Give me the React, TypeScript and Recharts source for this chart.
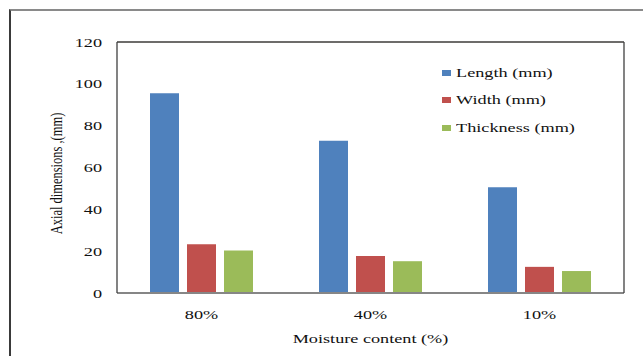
import React from "react";
import { Bar, BarChart, CartesianGrid, Legend, XAxis, YAxis } from "recharts";

const categories = ["80%", "40%", "10%"];
const lengthMm = [95.5, 72.8, 50.5];
const widthMm = [23.3, 17.7, 12.5];
const thicknessMm = [20.3, 15.2, 10.5];
const yTicks = [0, 20, 40, 60, 80, 100, 120];

const series = [
  { key: "length", name: "Length (mm)", color: "#4f81bd" },
  { key: "width", name: "Width (mm)", color: "#c0504d" },
  { key: "thickness", name: "Thickness (mm)", color: "#9bbb59" },
];

const data = categories.map((c, i) => ({
  moisture: c,
  length: lengthMm[i],
  width: widthMm[i],
  thickness: thicknessMm[i],
}));

// the source picture is stretched sideways, so text gets a horizontal scale
const SX = 1.35;
const font = "'Liberation Serif', 'Times New Roman', serif";
const ink = "#111";

function YTick({ x, y, payload }: any) {
  return (
    <text
      transform={`translate(${x - 15},${y}) scale(${SX},1)`}
      textAnchor="end"
      dominantBaseline="central"
      fontFamily={font}
      fontSize={13.5}
      fill={ink}
    >
      {payload.value}
    </text>
  );
}

function XTick({ x, y, payload }: any) {
  return (
    <text
      transform={`translate(${x},${y + 21}) scale(${SX},1)`}
      textAnchor="middle"
      dominantBaseline="central"
      fontFamily={font}
      fontSize={13.5}
      fill={ink}
    >
      {payload.value}
    </text>
  );
}

function YTitle({ viewBox }: any) {
  const cx = viewBox.x + 56;
  const cy = viewBox.y + viewBox.height / 2 + 6;
  return (
    <text
      transform={`translate(${cx},${cy}) scale(${SX},1) rotate(-90)`}
      textAnchor="middle"
      dominantBaseline="central"
      fontFamily={font}
      fontSize={12.5}
      fill={ink}
    >
      Axial dimensions ,(mm)
    </text>
  );
}

function XTitle({ viewBox }: any) {
  const cx = viewBox.x + viewBox.width / 2;
  const cy = viewBox.y + 45;
  return (
    <text
      transform={`translate(${cx},${cy}) scale(${SX},1)`}
      textAnchor="middle"
      dominantBaseline="central"
      fontFamily={font}
      fontSize={13.5}
      fill={ink}
    >
      Moisture content (%)
    </text>
  );
}

function LegendBox() {
  return (
    <div style={{ fontFamily: font, fontSize: 13.5, color: ink }}>
      {series.map((s) => (
        <div key={s.key} style={{ height: 27.5, display: "flex", alignItems: "center" }}>
          <span style={{ width: 9, height: 6, background: s.color, marginRight: 5 }} />
          <span style={{ display: "inline-block", transform: `scaleX(${SX})`, transformOrigin: "left center", whiteSpace: "nowrap" }}>
            {s.name}
          </span>
        </div>
      ))}
    </div>
  );
}

export default function App() {
  return (
    <div style={{ position: "absolute", left: 0, top: 0, width: 643, height: 356, background: "#fff", overflow: "hidden" }}>
      <div
        style={{
          position: "absolute",
          left: 9,
          top: 9,
          width: 700,
          height: 400,
          borderTop: "2px solid #8a8a8a",
          borderLeft: "2px solid #3a3a3a",
        }}
      />
      <div style={{ position: "absolute", left: 0, top: 0 }}>
        <BarChart
          width={643}
          height={356}
          data={data}
          margin={{ top: 41, right: 18, bottom: 23, left: 0 }}
          barSize={29}
          barGap={8}
        >
          <CartesianGrid stroke="#e4e1d2" vertical={false} />
          <XAxis
            dataKey="moisture"
            xAxisId="bottom"
            height={40}
            tickSize={0}
            tickMargin={0}
            tick={<XTick />}
            axisLine={{ stroke: "#868686", strokeWidth: 2 }}
            label={{ content: (p: any) => <XTitle {...p} /> }}
          />
          <XAxis
            dataKey="moisture"
            xAxisId="top"
            orientation="top"
            height={1}
            tick={false}
            tickLine={false}
            axisLine={{ stroke: "#404040", strokeWidth: 1.3 }}
          />
          <YAxis
            yAxisId="left"
            width={117}
            domain={[0, 120]}
            ticks={yTicks}
            tickSize={0}
            tickMargin={0}
            tick={<YTick />}
            axisLine={{ stroke: "#404040", strokeWidth: 1.3 }}
            label={{ content: (p: any) => <YTitle {...p} /> }}
          />
          <YAxis
            yAxisId="right"
            orientation="right"
            width={1}
            domain={[0, 120]}
            ticks={yTicks}
            tick={false}
            tickLine={false}
            axisLine={{ stroke: "#404040", strokeWidth: 1.3 }}
          />
          <Legend
            layout="vertical"
            align="center"
            verticalAlign="middle"
            wrapperStyle={{ left: 442, top: 59, width: 180 }}
            content={() => <LegendBox />}
          />
          {series.map((s) => (
            <Bar
              key={s.key}
              dataKey={s.key}
              name={s.name}
              fill={s.color}
              xAxisId="bottom"
              yAxisId="left"
              isAnimationActive={false}
            />
          ))}
        </BarChart>
      </div>
    </div>
  );
}
